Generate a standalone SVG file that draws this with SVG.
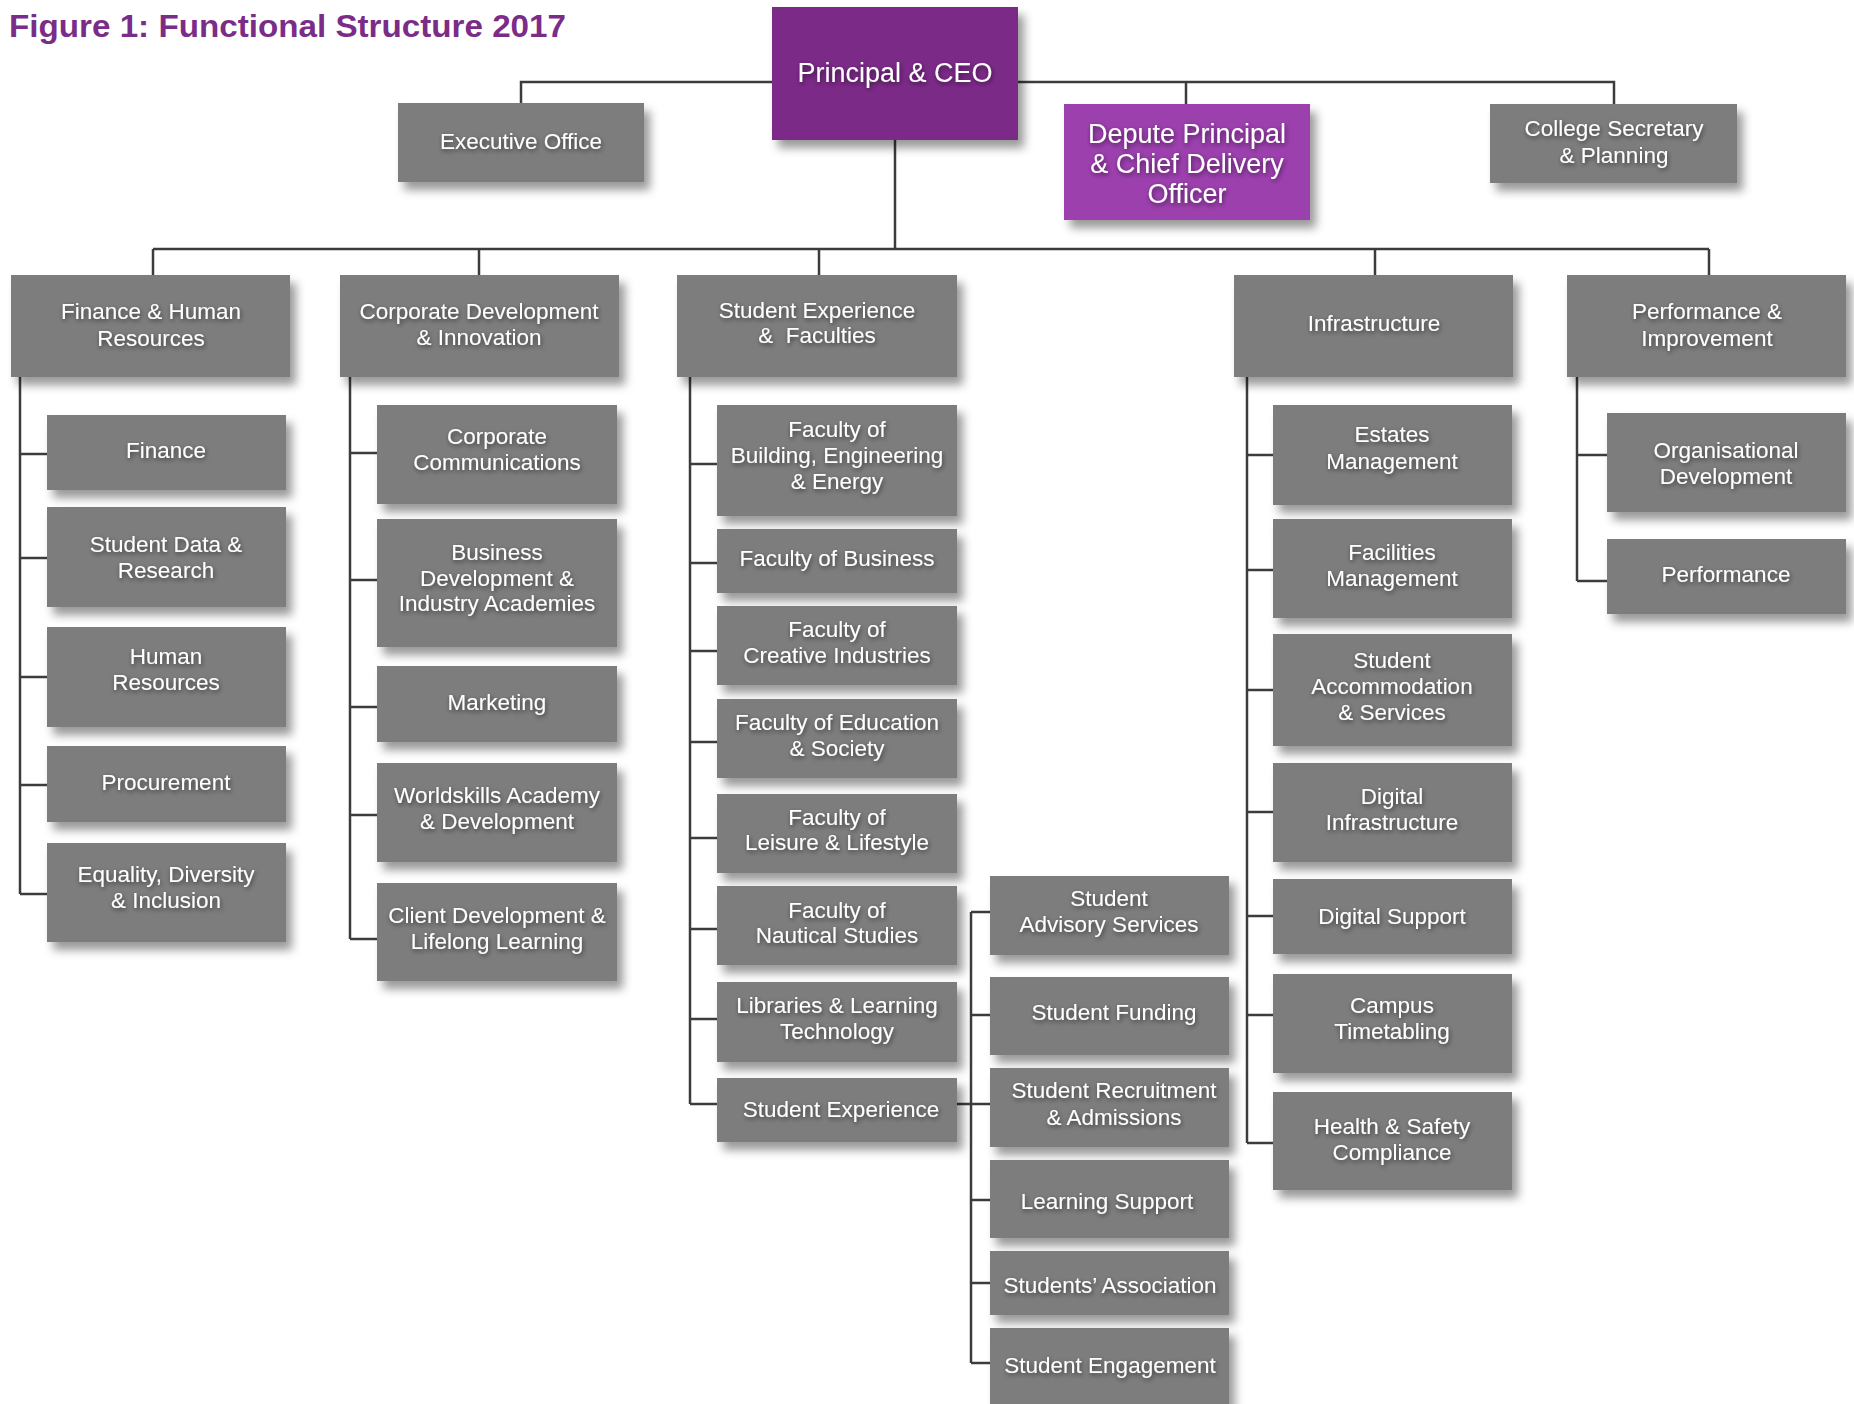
<svg xmlns="http://www.w3.org/2000/svg" width="1854" height="1404" viewBox="0 0 1854 1404">
<defs>
<filter id="sh" x="-10%" y="-10%" width="130%" height="140%">
<feDropShadow dx="6" dy="8" stdDeviation="5" flood-color="#000" flood-opacity="0.4"/>
</filter>
<filter id="ts" x="-10%" y="-30%" width="120%" height="160%">
<feGaussianBlur in="SourceAlpha" stdDeviation="2.5" result="b"/>
<feOffset dx="1" dy="2" in="b" result="o"/>
<feComponentTransfer in="o" result="s"><feFuncA type="linear" slope="0.55"/></feComponentTransfer>
<feMerge><feMergeNode in="s"/><feMergeNode in="SourceGraphic"/></feMerge>
</filter>
</defs>
<style>
.box{fill:#7d7d7d;filter:url(#sh)}
.p1{fill:#7b2c88;filter:url(#sh)}
.p2{fill:#9c40ae;filter:url(#sh)}
text{font-family:"Liberation Sans",Arial,sans-serif;fill:#fff;text-anchor:middle;font-size:22.5px;filter:url(#ts)}
.big{font-size:27px}
.title{font-size:31px;font-weight:bold;fill:#7b2c88;text-anchor:start;filter:none}
.ln{fill:none;stroke:#3c3c3c;stroke-width:2.5}
</style>
<rect width="1854" height="1404" fill="#fff"/>
<text class="title" x="9" y="37" textLength="557" lengthAdjust="spacingAndGlyphs">Figure 1: Functional Structure 2017</text>

<g id="connectors" class="ln">
<path d="M521,104V82H772M1018,82H1614V104M1186,82V104"/>
<path d="M895,140V249M153,249H1709M153,249V275M479,249V275M819,249V275M1375,249V275M1709,249V275"/>
<path d="M20,377V894M20,454H47M20,558H47M20,677H47M20,785H47M20,894H47"/>
<path d="M350,377V939M350,453H377M350,580H377M350,707H377M350,815H377M350,939H377"/>
<path d="M690,377V1104M690,464H717M690,563H717M690,651H717M690,742H717M690,838H717M690,929H717M690,1019H717M690,1104H717"/>
<path d="M957,1104H990M971,912V1363M971,912H990M971,1015H990M971,1200H990M971,1283H990M971,1363H990"/>
<path d="M1247,377V1143M1247,455H1273M1247,570H1273M1247,690H1273M1247,812H1273M1247,916H1273M1247,1015H1273M1247,1143H1273"/>
<path d="M1577,377V581M1577,455H1607M1577,581H1607"/>
</g>

<g id="principal"><rect class="p1" x="772" y="7" width="246" height="133"/><text class="big" x="895" y="82">Principal &amp; CEO</text></g>
<g id="executive-office"><rect class="box" x="398" y="103" width="246" height="79"/><text x="521" y="149">Executive Office</text></g>
<g id="depute-principal"><rect class="p2" x="1064" y="104" width="246" height="116"/><text class="big" x="1187" y="143">Depute Principal</text><text class="big" x="1187" y="173">&amp; Chief Delivery</text><text class="big" x="1187" y="203">Officer</text></g>
<g id="college-secretary"><rect class="box" x="1490" y="104" width="247" height="79"/><text x="1614" y="136">College Secretary</text><text x="1614" y="163">&amp; Planning</text></g>

<g id="finance-hr"><rect class="box" x="11" y="275" width="279" height="102"/><text x="151" y="319">Finance &amp; Human</text><text x="151" y="346">Resources</text></g>
<g id="corporate-development"><rect class="box" x="340" y="275" width="279" height="102"/><text x="479" y="319">Corporate Development</text><text x="479" y="345">&amp; Innovation</text></g>
<g id="student-experience-faculties"><rect class="box" x="677" y="275" width="280" height="102"/><text x="817" y="318">Student Experience</text><text x="817" y="343" xml:space="preserve">&amp;  Faculties</text></g>
<g id="infrastructure"><rect class="box" x="1234" y="275" width="279" height="102"/><text x="1374" y="331">Infrastructure</text></g>
<g id="performance-improvement"><rect class="box" x="1567" y="275" width="279" height="102"/><text x="1707" y="319">Performance &amp;</text><text x="1707" y="346">Improvement</text></g>

<g id="finance"><rect class="box" x="47" y="415" width="239" height="75"/><text x="166" y="458">Finance</text></g>
<g id="student-data"><rect class="box" x="47" y="507" width="239" height="100"/><text x="166" y="552">Student Data &amp;</text><text x="166" y="578">Research</text></g>
<g id="human-resources"><rect class="box" x="47" y="627" width="239" height="100"/><text x="166" y="664">Human</text><text x="166" y="690">Resources</text></g>
<g id="procurement"><rect class="box" x="47" y="746" width="239" height="76"/><text x="166" y="790">Procurement</text></g>
<g id="equality"><rect class="box" x="47" y="843" width="239" height="99"/><text x="166" y="882">Equality, Diversity</text><text x="166" y="908">&amp; Inclusion</text></g>

<g id="corporate-communications"><rect class="box" x="377" y="405" width="240" height="99"/><text x="497" y="444">Corporate</text><text x="497" y="470">Communications</text></g>
<g id="business-development"><rect class="box" x="377" y="519" width="240" height="128"/><text x="497" y="560">Business</text><text x="497" y="586">Development &amp;</text><text x="497" y="611">Industry Academies</text></g>
<g id="marketing"><rect class="box" x="377" y="666" width="240" height="76"/><text x="497" y="710">Marketing</text></g>
<g id="worldskills"><rect class="box" x="377" y="763" width="240" height="99"/><text x="497" y="803">Worldskills Academy</text><text x="497" y="829">&amp; Development</text></g>
<g id="client-development"><rect class="box" x="377" y="883" width="240" height="98"/><text x="497" y="923">Client Development &amp;</text><text x="497" y="949">Lifelong Learning</text></g>

<g id="faculty-building"><rect class="box" x="717" y="405" width="240" height="111"/><text x="837" y="437">Faculty of</text><text x="837" y="463">Building, Engineering</text><text x="837" y="489">&amp; Energy</text></g>
<g id="faculty-business"><rect class="box" x="717" y="529" width="240" height="64"/><text x="837" y="566">Faculty of Business</text></g>
<g id="faculty-creative"><rect class="box" x="717" y="606" width="240" height="79"/><text x="837" y="637">Faculty of</text><text x="837" y="663">Creative Industries</text></g>
<g id="faculty-education"><rect class="box" x="717" y="699" width="240" height="79"/><text x="837" y="730">Faculty of Education</text><text x="837" y="756">&amp; Society</text></g>
<g id="faculty-leisure"><rect class="box" x="717" y="794" width="240" height="79"/><text x="837" y="825">Faculty of</text><text x="837" y="850">Leisure &amp; Lifestyle</text></g>
<g id="faculty-nautical"><rect class="box" x="717" y="886" width="240" height="79"/><text x="837" y="918">Faculty of</text><text x="837" y="943">Nautical Studies</text></g>
<g id="libraries"><rect class="box" x="717" y="982" width="240" height="80"/><text x="837" y="1013">Libraries &amp; Learning</text><text x="837" y="1039">Technology</text></g>
<g id="student-experience"><rect class="box" x="717" y="1078" width="240" height="64"/><text x="841" y="1117">Student Experience</text></g>

<g id="student-advisory"><rect class="box" x="990" y="876" width="239" height="79"/><text x="1109" y="906">Student</text><text x="1109" y="932">Advisory Services</text></g>
<g id="student-funding"><rect class="box" x="990" y="977" width="239" height="78"/><text x="1114" y="1020">Student Funding</text></g>
<g id="student-recruitment"><rect class="box" x="990" y="1068" width="239" height="79"/><text x="1114" y="1098">Student Recruitment</text><text x="1114" y="1125">&amp; Admissions</text></g>
<g id="learning-support"><rect class="box" x="990" y="1160" width="239" height="78"/><text x="1107" y="1209">Learning Support</text></g>
<g id="students-association"><rect class="box" x="990" y="1251" width="239" height="64"/><text x="1110" y="1293">Students’ Association</text></g>
<g id="student-engagement"><rect class="box" x="990" y="1328" width="239" height="90"/><text x="1110" y="1373">Student Engagement</text></g>

<g id="estates"><rect class="box" x="1273" y="405" width="239" height="100"/><text x="1392" y="442">Estates</text><text x="1392" y="469">Management</text></g>
<g id="facilities"><rect class="box" x="1273" y="519" width="239" height="99"/><text x="1392" y="560">Facilities</text><text x="1392" y="586">Management</text></g>
<g id="accommodation"><rect class="box" x="1273" y="634" width="239" height="112"/><text x="1392" y="668">Student</text><text x="1392" y="694">Accommodation</text><text x="1392" y="720">&amp; Services</text></g>
<g id="digital-infrastructure"><rect class="box" x="1273" y="763" width="239" height="99"/><text x="1392" y="804">Digital</text><text x="1392" y="830">Infrastructure</text></g>
<g id="digital-support"><rect class="box" x="1273" y="879" width="239" height="75"/><text x="1392" y="924">Digital Support</text></g>
<g id="campus-timetabling"><rect class="box" x="1273" y="974" width="239" height="99"/><text x="1392" y="1013">Campus</text><text x="1392" y="1039">Timetabling</text></g>
<g id="health-safety"><rect class="box" x="1273" y="1092" width="239" height="98"/><text x="1392" y="1134">Health &amp; Safety</text><text x="1392" y="1160">Compliance</text></g>

<g id="organisational-development"><rect class="box" x="1607" y="413" width="239" height="99"/><text x="1726" y="458">Organisational</text><text x="1726" y="484">Development</text></g>
<g id="performance"><rect class="box" x="1607" y="539" width="239" height="75"/><text x="1726" y="582">Performance</text></g>
</svg>
